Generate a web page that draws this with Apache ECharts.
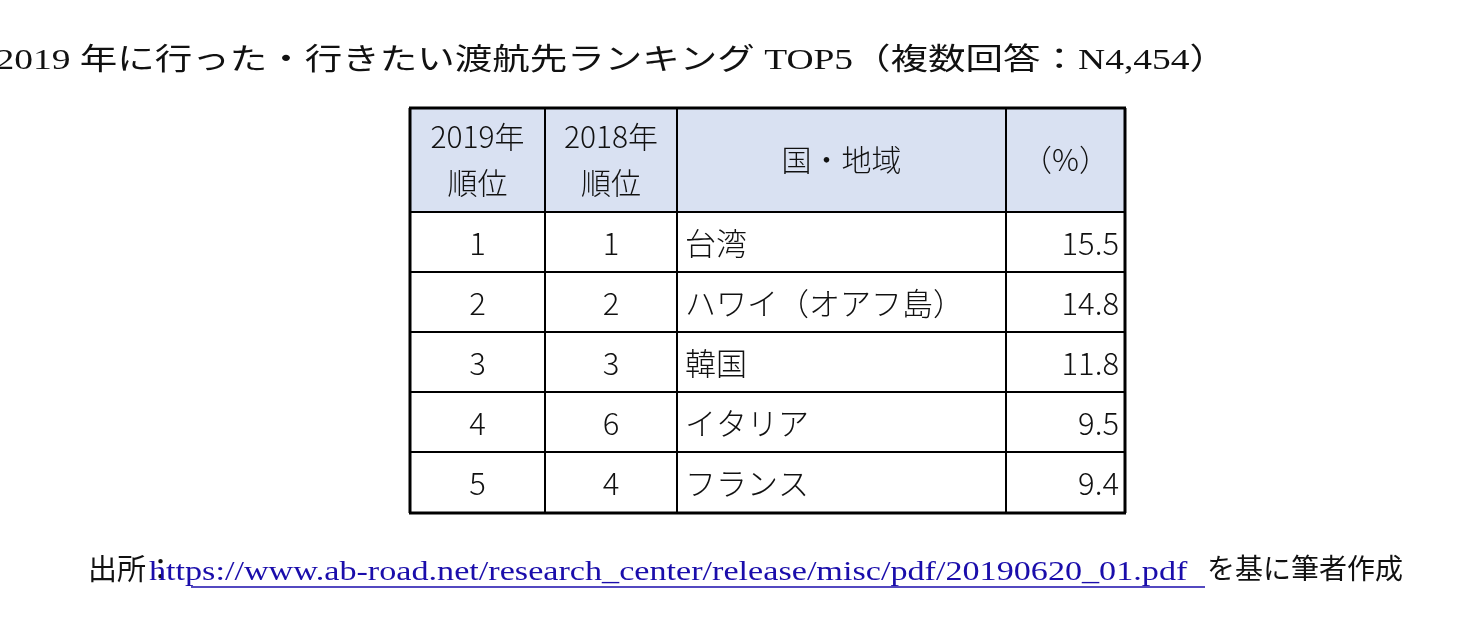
<!DOCTYPE html>
<html><head><meta charset="utf-8">
<script src="https://cdn.jsdelivr.net/npm/echarts@6/dist/echarts.min.js"></script>
<style>html,body{margin:0;background:#fff}#c{width:1480px;height:622px}</style>
</head><body><div id="c"></div>
<script>
const titleText = '表１　2019 年に行った・行きたい渡航先ランキング TOP5（複数回答：N4,454）';
const headers = ['2019年\n順位', '2018年\n順位', '国・地域', '（%）'];
const rank2019 = ['1','2','3','4','5'];
const rank2018 = ['1','2','3','6','4'];
const regions = ['台湾','ハワイ（オアフ島）','韓国','イタリア','フランス'];
const percents = [15.5, 14.8, 11.8, 9.5, 9.4];
const sourceLabel = '出所：';
const sourceUrl = 'https://www.ab-road.net/research_center/release/misc/pdf/20190620_01.pdf';
const sourceTail = 'を基に筆者作成';

const colX = [410, 545, 677, 1006, 1125];
const rowY = [108, 212, 272, 332, 392, 452, 513];
const F = '"Noto Sans CJK JP", sans-serif';
const SERIF = '"Liberation Serif", "Noto Sans CJK JP", serif';
const g = [];
g.push({type:'rect', shape:{x:colX[0],y:rowY[0],width:colX[4]-colX[0],height:rowY[1]-rowY[0]}, style:{fill:'#d9e1f2'}});
const cols = [rank2019, rank2018, regions, percents.map(v=>v.toFixed(1))];
const aligns = ['center','center','left','right'];
headers.forEach((h,i)=>{
  g.push({type:'text', x:(colX[i]+colX[i+1])/2, y:(rowY[0]+rowY[1])/2,
    style:{text:h, font:'300 30px '+F, fill:'#111', align:'center', verticalAlign:'middle', lineHeight:46}});
});
cols.forEach((col,i)=>{
  col.forEach((t,r)=>{
    const yc=(rowY[r+1]+rowY[r+2])/2;
    let x = aligns[i]==='center'?(colX[i]+colX[i+1])/2: aligns[i]==='left'?colX[i]+8:colX[i+1]-6;
    g.push({type:'text', x, y:yc+1, style:{text:t, font:'300 31px '+F, fill:'#111', align:aligns[i], verticalAlign:'middle'}});
  });
});
rowY.forEach((y,i)=>{
  const w = (i===0||i===rowY.length-1)?3:2;
  g.push({type:'line', shape:{x1:colX[0]-1,y1:y,x2:colX[4]+1,y2:y}, style:{stroke:'#000', lineWidth:w}});
});
colX.forEach((x,i)=>{
  const w = (i===0||i===colX.length-1)?3:2;
  g.push({type:'line', shape:{x1:x,y1:rowY[0],x2:x,y2:rowY[rowY.length-1]}, style:{stroke:'#000', lineWidth:w}});
});
g.push({type:'text', x:740, y:61, scaleX:1.25, originX:740, originY:61, style:{text:titleText, font:'30px '+SERIF, fill:'#111', align:'center', verticalAlign:'middle'}});
g.push({type:'text', x:88, y:572, style:{text:sourceLabel, font:'29px '+SERIF, fill:'#111', verticalAlign:'middle'}});
g.push({type:'text', x:191, y:573, scaleX:1.22, originX:191, originY:573, style:{text:sourceUrl, font:'28px "Liberation Serif", serif', fill:'#1a0dab', verticalAlign:'middle'}});
g.push({type:'line', shape:{x1:191,y1:587,x2:1205,y2:587}, style:{stroke:'#1a0dab', lineWidth:1.5}});
g.push({type:'text', x:1207, y:572, style:{text:sourceTail, font:'28px '+SERIF, fill:'#111', verticalAlign:'middle'}});
const chart = echarts.init(document.getElementById('c'));
chart.setOption({animation:false, graphic:g});
</script></body></html>
